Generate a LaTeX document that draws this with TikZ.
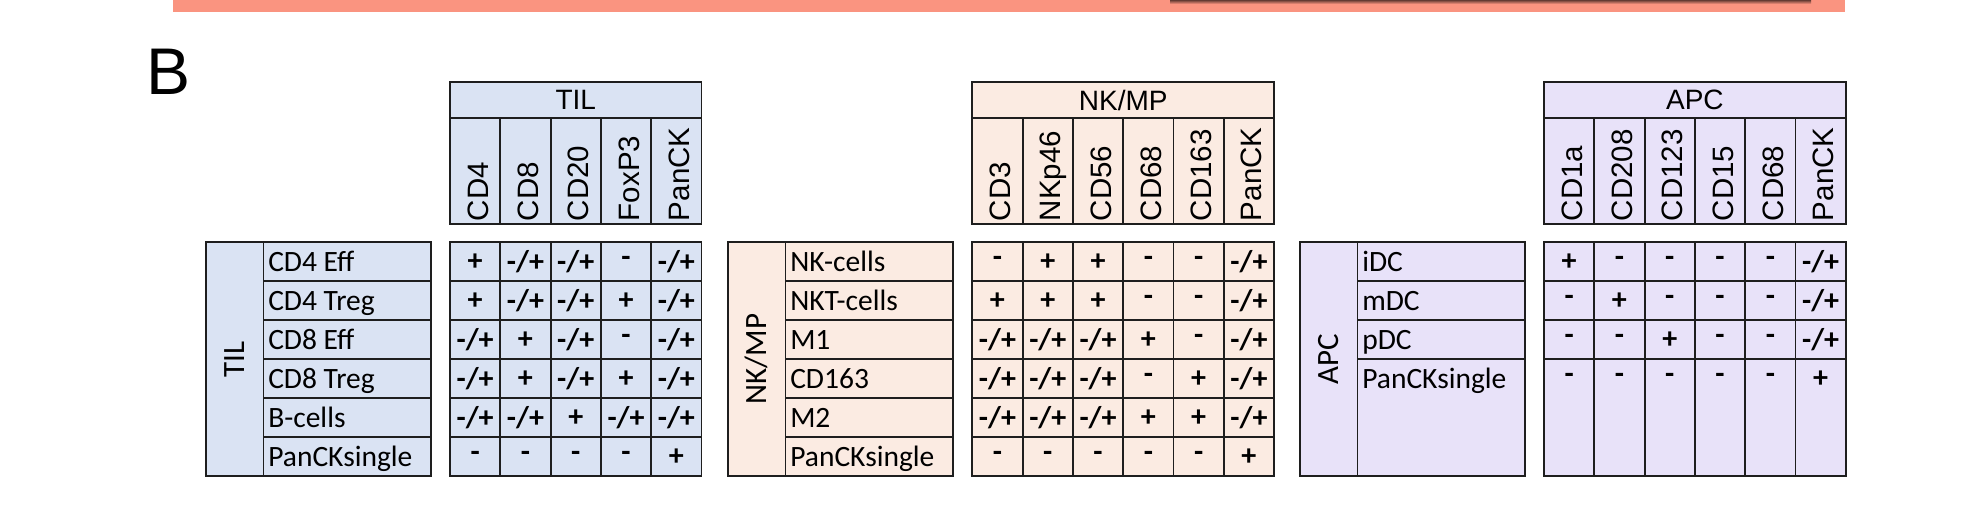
\documentclass[tikz,border=0pt]{standalone}
\usepackage{fontspec}
\usepackage{tikz}
\usetikzlibrary{arrows,positioning,calc}
\newfontfamily\calib{Carlito}
\newfontfamily\arialf{Liberation Sans}
\definecolor{tilfill}{HTML}{DAE3F3}
\definecolor{nkfill}{HTML}{FBEBE2}
\definecolor{apcfill}{HTML}{E8E2F9}
\definecolor{barfill}{HTML}{FA9480}
\definecolor{gridline}{HTML}{1E1E1E}
\tikzstyle{cellbox}=[draw=gridline,line width=1.9pt,rectangle,inner sep=0pt,minimum width=50.3pt,minimum height=39pt]
\tikzstyle{titlebox}=[cellbox,minimum height=36.2pt,font=\arialf\fontsize{28}{28}\selectfont]
\tikzstyle{markbox}=[cellbox,minimum height=106.3pt]
\tikzstyle{namebox}=[cellbox,minimum width=167.5pt]
\tikzstyle{grpbox}=[cellbox,minimum width=57.5pt,minimum height=234pt]
\tikzstyle{valtxt}=[font=\calib\bfseries\fontsize{30}{30}\selectfont]
\tikzstyle{nametxt}=[anchor=base west,inner sep=0pt,font=\calib\fontsize{29.5}{30}\selectfont]
\tikzstyle{marktxt}=[rotate=90,anchor=base west,inner sep=0pt,font=\arialf\fontsize{29.5}{30}\selectfont]
\tikzstyle{grptxt}=[rotate=90,inner sep=0pt,font=\calib\fontsize{31}{31}\selectfont]

\begin{document}
\begin{tikzpicture}[x=1pt,y=-1pt]
    \useasboundingbox (0,0) rectangle (1963,510);
    \fill[barfill] (173,0) rectangle (1845,12.3);
    \shade[top color=black!60!barfill,bottom color=barfill] (1170,0) rectangle (1811,4);
    \node[anchor=base west,inner sep=0pt,font=\arialf\fontsize{66}{66}\selectfont] (panelb) at (146.5,94.3) {B};

    % TIL
    \node[titlebox,fill=tilfill,minimum width=251.5pt] (tiltitle) at (575.75,100) {TIL};
    \foreach \m [count=\c] in {CD4,CD8,CD20,FoxP3,PanCK}{
      \node[markbox,fill=tilfill] (tilm\c) at ({450+50.3*(\c-0.5)},171.15) {};
      \node[marktxt] (tilmt\c) at ($(tilm\c.south)+(13,-4)$) {\m};
    }
    \node[grpbox,fill=tilfill] (tilgrp) at (234.75,359.3) {};
    \node[grptxt] (tilgrpt) at (tilgrp) {TIL};
    \foreach \n [count=\r] in {CD4 Eff,CD4 Treg,CD8 Eff,CD8 Treg,B-cells,PanCKsingle}{
      \node[namebox,fill=tilfill] (tiln\r) at (347.25,{261.8+39*(\r-1)}) {};
      \node[nametxt] (tilnt\r) at ($(tiln\r.west)+(5.5,10)$) {\n};
    }
    \foreach \vals [count=\r] in {{+,-/+,-/+,-,-/+},{+,-/+,-/+,+,-/+},{-/+,+,-/+,-,-/+},
        {-/+,+,-/+,+,-/+},{-/+,-/+,+,-/+,-/+},{-,-,-,-,+}}{
      \foreach \v [count=\c] in \vals
        \node[cellbox,fill=tilfill,valtxt] (tilv\r-\c) at ({450+50.3*(\c-0.5)},{261.8+39*(\r-1)}) {\v};
    }

    % NK/MP
    \node[titlebox,fill=nkfill,minimum width=301.8pt] (nktitle) at (1123.2,100) {NK/MP};
    \foreach \m [count=\c] in {CD3,NKp46,CD56,CD68,CD163,PanCK}{
      \node[markbox,fill=nkfill] (nkm\c) at ({972.3+50.3*(\c-0.5)},171.15) {};
      \node[marktxt] (nkmt\c) at ($(nkm\c.south)+(13,-4)$) {\m};
    }
    \node[grpbox,fill=nkfill] (nkgrp) at (756.75,359.3) {};
    \node[grptxt] (nkgrpt) at (nkgrp) {NK/MP};
    \foreach \n [count=\r] in {NK-cells,NKT-cells,M1,CD163,M2,PanCKsingle}{
      \node[namebox,fill=nkfill] (nkn\r) at (869.25,{261.8+39*(\r-1)}) {};
      \node[nametxt] (nknt\r) at ($(nkn\r.west)+(5.5,10)$) {\n};
    }
    \foreach \vals [count=\r] in {{-,+,+,-,-,-/+},{+,+,+,-,-,-/+},{-/+,-/+,-/+,+,-,-/+},
        {-/+,-/+,-/+,-,+,-/+},{-/+,-/+,-/+,+,+,-/+},{-,-,-,-,-,+}}{
      \foreach \v [count=\c] in \vals
        \node[cellbox,fill=nkfill,valtxt] (nkv\r-\c) at ({972.3+50.3*(\c-0.5)},{261.8+39*(\r-1)}) {\v};
    }

    % APC
    \node[titlebox,fill=apcfill,minimum width=301.8pt] (apctitle) at (1694.9,100) {APC};
    \foreach \m [count=\c] in {CD1a,CD208,CD123,CD15,CD68,PanCK}{
      \node[markbox,fill=apcfill] (apcm\c) at ({1544+50.3*(\c-0.5)},171.15) {};
      \node[marktxt] (apcmt\c) at ($(apcm\c.south)+(13,-4)$) {\m};
    }
    \node[grpbox,fill=apcfill] (apcgrp) at (1328.75,359.3) {};
    \node[grptxt] (apcgrpt) at (apcgrp) {APC};
    \foreach \n [count=\r] in {iDC,mDC,pDC}{
      \node[namebox,fill=apcfill] (apcn\r) at (1441.25,{261.8+39*(\r-1)}) {};
      \node[nametxt] (apcnt\r) at ($(apcn\r.west)+(5.5,10)$) {\n};
    }
    \node[namebox,fill=apcfill,minimum height=117pt] (apcn4) at (1441.25,417.8) {};
    \node[nametxt] (apcnt4) at ($(apcn4.west)+(5.5,-29)$) {PanCKsingle};
    \foreach \c in {1,...,6}{
      \foreach \r in {1,2,3}
        \node[cellbox,fill=apcfill] (apcc\r-\c) at ({1544+50.3*(\c-0.5)},{261.8+39*(\r-1)}) {};
      \node[cellbox,fill=apcfill,minimum height=117pt] (apcc4-\c) at ({1544+50.3*(\c-0.5)},417.8) {};
    }
    \foreach \vals [count=\r] in {{+,-,-,-,-,-/+},{-,+,-,-,-,-/+},{-,-,+,-,-,-/+},{-,-,-,-,-,+}}{
      \foreach \v [count=\c] in \vals
        \node[valtxt] (apcv\r-\c) at ({1544+50.3*(\c-0.5)},{261.8+39*(\r-1)}) {\v};
    }
\end{tikzpicture}
\end{document}
